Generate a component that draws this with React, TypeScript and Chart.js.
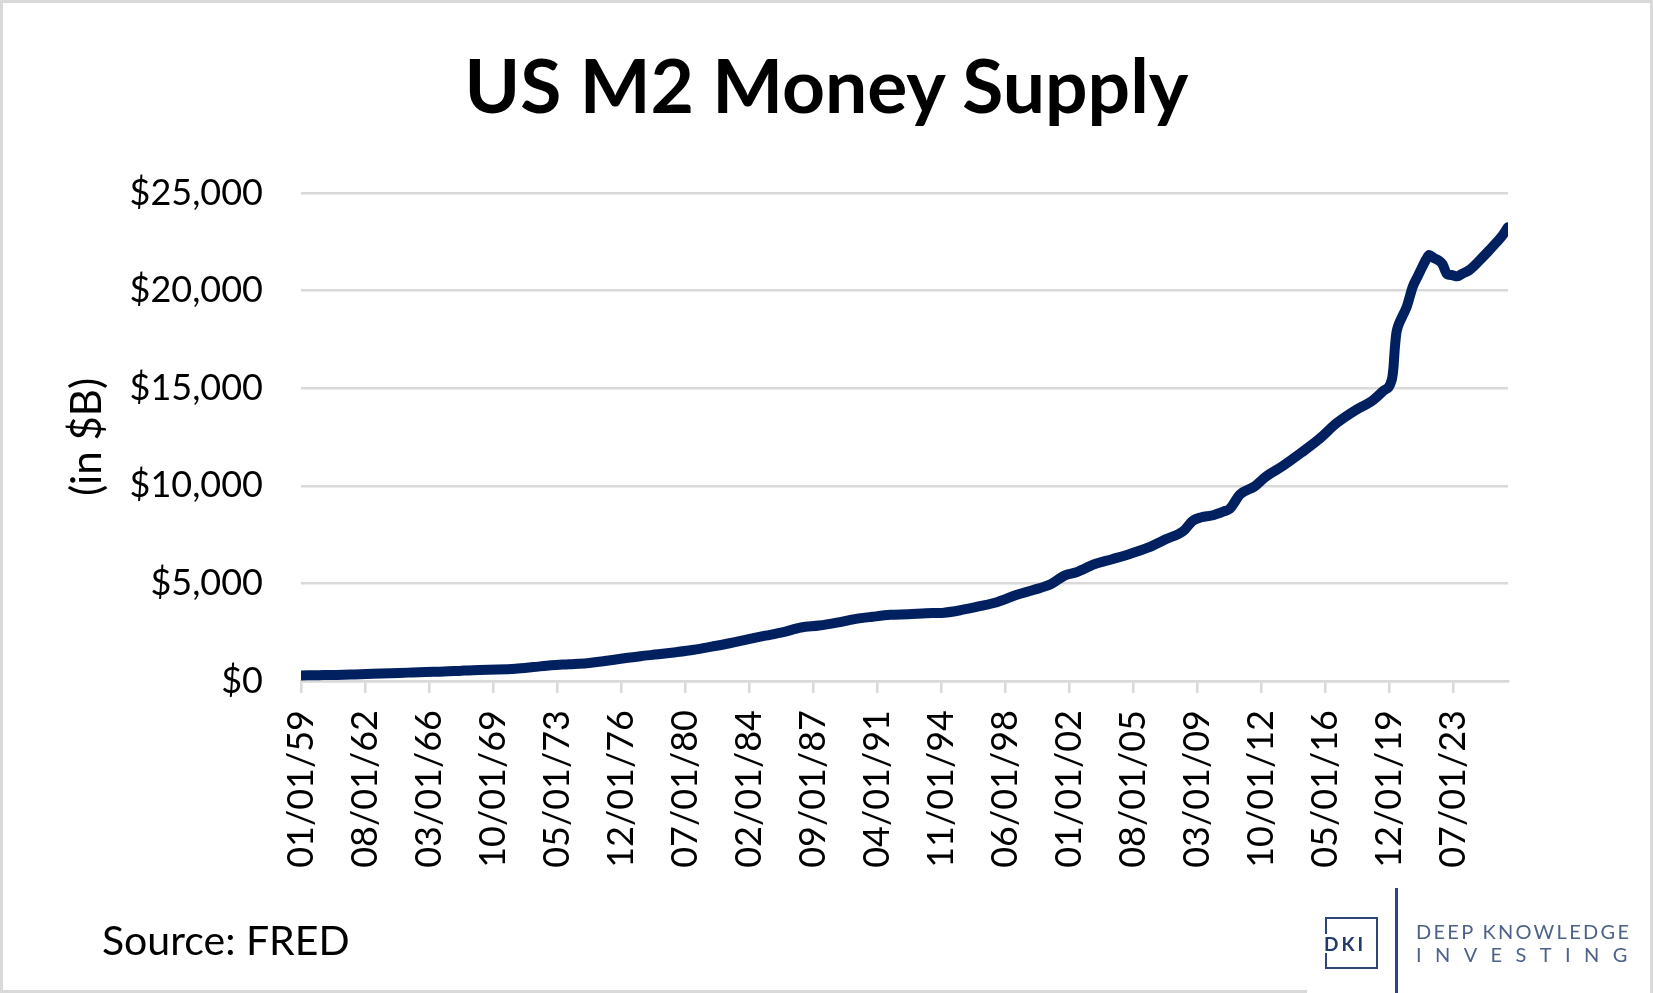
import { useEffect, useRef } from "react";
import { Chart, registerables } from "chart.js";

Chart.register(...registerables);

// M2 (billions of dollars)
const months = [
  "1959-01", "1960-01", "1961-01", "1962-01", "1963-01", "1964-01", "1965-01", "1966-01",
  "1967-01", "1968-01", "1969-01", "1970-01", "1971-01", "1972-01", "1973-01", "1974-01",
  "1975-01", "1976-01", "1977-01", "1978-01", "1979-01", "1980-01", "1981-01", "1982-01",
  "1983-01", "1984-01", "1985-01", "1986-01", "1987-01", "1988-01", "1989-01", "1990-01",
  "1991-01", "1992-01", "1993-01", "1994-01", "1995-01", "1996-01", "1997-01", "1998-01",
  "1999-01", "2000-01", "2001-01", "2001-10", "2002-06", "2003-06", "2004-06", "2005-06",
  "2006-06", "2007-06", "2008-06", "2008-12", "2009-06", "2010-01", "2010-09", "2011-01",
  "2011-08", "2012-06", "2013-01", "2014-01", "2015-01", "2016-01", "2017-01", "2018-01",
  "2019-01", "2019-08", "2020-02", "2020-03", "2020-04", "2020-05", "2020-06", "2020-09",
  "2020-12", "2021-04", "2021-07", "2021-10", "2022-01", "2022-03", "2022-06", "2022-09",
  "2022-12", "2023-03", "2023-06", "2023-10", "2024-01", "2024-06", "2024-12", "2025-06",
  "2025-12", "2026-04", "2026-08",
];

const m2Values = [
  287, 299, 313, 338, 366, 396, 429, 460,
  482, 528, 567, 588, 630, 712, 803, 857,
  910, 1022, 1152, 1271, 1369, 1477, 1602, 1764,
  1935, 2135, 2320, 2505, 2740, 2840, 2990, 3170,
  3290, 3390, 3420, 3470, 3500, 3640, 3830, 4050,
  4390, 4660, 4970, 5400, 5570, 5980, 6240, 6510,
  6830, 7260, 7690, 8200, 8390, 8480, 8690, 8820,
  9560, 9980, 10450, 11030, 11690, 12390, 13220, 13850,
  14370, 14850, 15460, 16030, 17090, 17830, 18150, 18680,
  19180, 20200, 20680, 21150, 21600, 21820, 21680, 21560,
  21350, 20850, 20800, 20730, 20850, 21050, 21480, 21950,
  22450, 22800, 23250,
];

const xTickLabels = [
  "01/01/59", "08/01/62", "03/01/66", "10/01/69", "05/01/73", "12/01/76", "07/01/80",
  "02/01/84", "09/01/87", "04/01/91", "11/01/94", "06/01/98", "01/01/02", "08/01/05",
  "03/01/09", "10/01/12", "05/01/16", "12/01/19", "07/01/23",
];

const yTicks = [0, 5000, 10000, 15000, 20000, 25000];

const monthIndex = (ym: string) => {
  const [y, m] = ym.split("-").map(Number);
  return (y - 1959) * 12 + (m - 1);
};

const labelIndex = (lbl: string) => {
  const [mm, , yy] = lbl.split("/").map(Number);
  const year = yy >= 59 ? 1900 + yy : 2000 + yy;
  return (year - 1959) * 12 + (mm - 1);
};

const GRID = "#d9d9d9";
const NAVY = "#002060";
const LOGO = "#2e4677";
const FONT = "Lato, 'Open Sans', sans-serif";

export default function App() {
  const canvasRef = useRef<HTMLCanvasElement>(null);

  useEffect(() => {
    document.body.style.margin = "0";
    document.body.style.overflow = "hidden";
    if (!canvasRef.current) return;

    const points = months.map((m, i) => ({ x: monthIndex(m), y: m2Values[i] }));
    const tickPos = xTickLabels.map(labelIndex);

    const chart = new Chart(canvasRef.current, {
      type: "line",
      data: {
        datasets: [
          {
            data: points,
            borderColor: NAVY,
            borderWidth: 10,
            pointRadius: 0,
            cubicInterpolationMode: "monotone",
            borderCapStyle: "round",
            borderJoinStyle: "round",
            fill: false,
          },
        ],
      },
      options: {
        responsive: false,
        animation: false,
        layout: { padding: { left: 0, right: 145, top: 193, bottom: 0 } },
        plugins: {
          legend: { display: false },
          tooltip: { enabled: false },
          title: { display: false },
        },
        scales: {
          x: {
            type: "linear",
            min: 0,
            max: points[points.length - 1].x,
            afterBuildTicks: (axis: any) => {
              axis.ticks = tickPos.map((v) => ({ value: v }));
            },
            afterFit: (axis: any) => {
              axis.height = 312;
            },
            ticks: {
              autoSkip: false,
              minRotation: 90,
              maxRotation: 90,
              padding: 17,
              color: "#000",
              font: { family: FONT, size: 36 },
              callback: (_v: any, i: number) => xTickLabels[i],
            },
            grid: {
              drawOnChartArea: false,
              drawTicks: true,
              tickLength: 12,
              color: GRID,
              lineWidth: 2.5,
            },
            border: { display: true, color: GRID, width: 2.5 },
          },
          y: {
            min: 0,
            max: 25000,
            afterBuildTicks: (axis: any) => {
              axis.ticks = yTicks.map((v) => ({ value: v }));
            },
            afterFit: (axis: any) => {
              axis.width = 301;
            },
            ticks: {
              padding: 38,
              color: "#000",
              font: { family: FONT, size: 36 },
              callback: (v: any) => "$" + Number(v).toLocaleString("en-US"),
            },
            grid: { color: GRID, lineWidth: 2.5, drawTicks: false },
            border: { display: false },
            title: {
              display: true,
              text: "(in $B)",
              color: "#000",
              font: { family: FONT, size: 42 },
              padding: { top: 62, bottom: 0 },
            },
          },
        },
      },
    });

    let alive = true;
    Promise.all([
      document.fonts.load(`36px Lato`),
      document.fonts.load(`bold 72px Lato`),
    ]).then(() => {
      if (alive) chart.update();
    });

    return () => {
      alive = false;
      chart.destroy();
    };
  }, []);

  return (
    <div
      style={{
        position: "relative",
        width: 1653,
        height: 993,
        background: "#fff",
        overflow: "hidden",
        fontFamily: FONT,
      }}
    >
      <canvas
        ref={canvasRef}
        width={1653}
        height={993}
        style={{ position: "absolute", left: 0, top: 0, width: 1653, height: 993 }}
      ></canvas>
      <div
        style={{
          position: "absolute",
          inset: 0,
          border: "3px solid #d9d9d9",
          boxSizing: "border-box",
          pointerEvents: "none",
        }}
      ></div>
      {/* white patch behind the logo hides the frame's bottom edge */}
      <div
        style={{ position: "absolute", left: 1307, top: 982, width: 343, height: 11, background: "#fff" }}
      ></div>

      <div
        style={{
          position: "absolute",
          left: 0,
          top: 47,
          width: 1653,
          textAlign: "center",
          fontSize: 75,
          lineHeight: "75px",
          fontWeight: 700,
          color: "#000",
          whiteSpace: "nowrap",
        }}
      >
        US M2 Money Supply
      </div>

      <div
        style={{
          position: "absolute",
          left: 102,
          top: 919,
          fontSize: 41,
          lineHeight: "41px",
          color: "#000",
          whiteSpace: "nowrap",
        }}
      >
        Source: FRED
      </div>

      {/* logo */}
      <div
        style={{
          position: "absolute",
          left: 1325,
          top: 917,
          width: 53,
          height: 52,
          border: `2.5px solid ${LOGO}`,
          boxSizing: "border-box",
        }}
      ></div>
      <div
        style={{
          position: "absolute",
          left: 1324,
          top: 934,
          fontSize: 19,
          lineHeight: "19px",
          fontWeight: 700,
          letterSpacing: 3,
          color: "#1f3a6b",
          background: "#fff",
          whiteSpace: "nowrap",
        }}
      >
        DKI
      </div>
      <div
        style={{ position: "absolute", left: 1395, top: 888, width: 2.5, height: 105, background: LOGO }}
      ></div>
      <div
        style={{
          position: "absolute",
          left: 1416,
          top: 921,
          fontSize: 20,
          lineHeight: "20px",
          letterSpacing: 2.3,
          color: "#4d6189",
          whiteSpace: "nowrap",
        }}
      >
        DEEP KNOWLEDGE
      </div>
      <div
        style={{
          position: "absolute",
          left: 1416,
          top: 944,
          fontSize: 20,
          lineHeight: "20px",
          letterSpacing: 13.4,
          color: "#4d6189",
          whiteSpace: "nowrap",
        }}
      >
        INVESTING
      </div>
    </div>
  );
}
